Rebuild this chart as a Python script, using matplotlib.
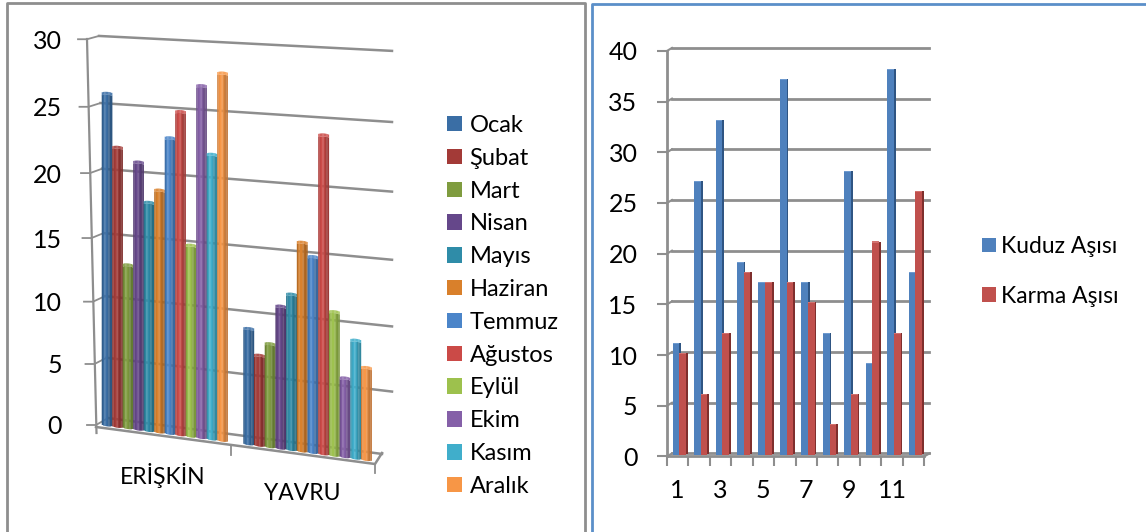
#!/usr/bin/env python3
import numpy as np
import matplotlib
matplotlib.use('Agg')
import matplotlib.pyplot as plt
from matplotlib import transforms as mtransforms
from matplotlib.colors import to_rgb
from matplotlib.patches import Patch

plt.rcParams['font.family'] = ['Lato', 'DejaVu Sans']

months = ['Ocak', 'Şubat', 'Mart', 'Nisan', 'Mayıs', 'Haziran', 'Temmuz', 'Ağustos', 'Eylül', 'Ekim', 'Kasım', 'Aralık']
month_colors = ['#3a6ea5', '#a33a37', '#7f9c3f', '#65478a', '#2f8ca8', '#d9802b',
	'#4b85c9', '#cb4a47', '#9dc14d', '#8560a8', '#40aecb', '#f79646']
eriskin = [26, 22, 13, 21, 18, 19, 23, 25, 15, 27, 22, 28]
yavru = [9, 7, 8, 11, 12, 16, 15, 24, 11, 6, 9, 7]
left_ticks = [0, 5, 10, 15, 20, 25, 30]

kuduz = [11, 27, 33, 19, 17, 37, 17, 12, 28, 9, 38, 18]
karma = [10, 6, 12, 18, 17, 17, 15, 3, 6, 21, 12, 26]
right_ticks = [0, 5, 10, 15, 20, 25, 30, 35, 40]

W, H = 1146, 532
GREY = '#8e8e8e'


class Tilted(mtransforms.Transform):
	# (pixel x, value) -> pixel position on a tilted plane of the left chart
	input_dims = 2
	output_dims = 2
	is_separable = False
	has_inverse = False

	def __init__(self, y0, slope, stretch=1.0):
		super().__init__()
		self.y0 = y0
		self.slope = slope
		self.stretch = stretch

	def transform_non_affine(self, xy):
		xy = np.asarray(xy, dtype=float)
		x, v = xy[:, 0], xy[:, 1]
		h = (11.86 * v + 0.028 * v * v) * (1 + 0.00021 * (x - 100)) * self.stretch
		return np.column_stack([x, self.y0 + self.slope * (x - 100) - h])


def shade(color, f):
	c = np.array(to_rgb(color))
	if f < 1:
		return tuple(c * f)
	return tuple(c + (1 - c) * (f - 1))


def draw_cylinders(ax, trans, left, step, values):
	for i, v in enumerate(values):
		n = 8
		w = step / n
		for j in range(n):
			t = (j + 0.5) / n
			dome = np.sqrt(1 - (2 * t - 1) ** 2)
			f = 0.78 + 0.24 * np.sin(np.pi * min(t * 1.35, 1))
			x = left + i * step + j * w
			ax.bar(x, v + 0.2 * dome, width=w * 1.15, bottom=-0.12 * dome, align='edge',
				color=shade(month_colors[i], f), lw=0, transform=trans, zorder=3 + i)
			ax.bar(x, 0.22, width=w * 1.15, bottom=v - 0.02 + 0.1 * dome, align='edge',
				color=shade(month_colors[i], 1.12), lw=0, transform=trans, zorder=3 + i)


fig = plt.figure(figsize=(W / 100, H / 100), dpi=100)

# left chart, axes in pixels of the figure
ax = fig.add_axes([0, 0, 1, 1])
ax.set_axis_off()

wall_tr = Tilted(417, 0.131)
wall = wall_tr + ax.transData
front = Tilted(424, 0.133, 1.004) + ax.transData

for v in left_ticks:
	ax.plot([99 + 9 * (1 - v / 30), 392 if v else 382], [v, v], color=GREY, lw=1.8, transform=wall, zorder=1)
	y = 425 - (12.07 * v + 0.0263 * v * v)
	xa = 87 + 9 * (1 - v / 30)
	xw = 99 + 9 * (1 - v / 30)
	yw = wall_tr.transform_non_affine(np.array([[xw, v]]))[0, 1]
	ax.plot([xa - 9, xa, xw], [y, y, yw], color=GREY, lw=1.3, zorder=1)
	ax.text(62, y + 2, str(v), ha='right', va='center', fontsize=18, color='black')
ax.plot([87, 96.5], [39, 433], color=GREY, lw=1.6, zorder=1)
ax.plot([96, 375, 382], [427, 464, 453], color=GREY, lw=1.8, zorder=2)
ax.plot([231, 231], [445, 455], color=GREY, lw=1.3, zorder=1)
ax.plot([375, 375], [464, 473], color=GREY, lw=1.3, zorder=1)

draw_cylinders(ax, front, 101.7, 10.5, eriskin)
draw_cylinders(ax, front, 243.3, 10.7, yavru)

ax.text(163, 475, 'ERİŞKİN', ha='center', va='center', fontsize=16.5, color='black')
ax.text(302, 494, 'YAVRU', ha='center', va='center', fontsize=16.5, color='black')

ax.plot([7, 7, 585, 585], [H, 3, 3, H], color=GREY, lw=2, zorder=0)
ax.plot([592, 592, W], [H, 4, 4], color='#5b8fc9', lw=2, zorder=0)

# short joins between the right chart's axis and its back wall
for v in right_ticks:
	y = 456.4 - v * (456.4 - 50.9) / 40
	ax.plot([667, 672], [y, y - 3], color=GREY, lw=1.5, zorder=1)

ax.set_xlim(0, W)
ax.set_ylim(H, 0)

handles = [Patch(facecolor=c, label=m) for c, m in zip(month_colors, months)]
leg = ax.legend(handles=handles, loc='upper left', bbox_to_anchor=(447 / W, 1 - 115 / H),
	frameon=False, fontsize=17, handlelength=0.635, handleheight=0.635, handletextpad=0.32,
	labelspacing=0.5, borderpad=0, borderaxespad=0)

# right chart
ax2 = fig.add_axes([666.7 / W, 1 - 456.4 / H, (924.3 - 666.7) / W, (456.4 - 50.9) / H])
ax2.patch.set_alpha(0)
ax2.set_xlim(0, 12)
ax2.set_ylim(0, 40)

back = mtransforms.offset_copy(ax2.transData, fig=fig, x=5, y=3, units='dots')
for v in right_ticks:
	ax2.plot([0, 12], [v, v], color=GREY, lw=2, transform=back, zorder=1, clip_on=False)

pos = np.arange(12) + 0.5
bw = 0.31
base = mtransforms.offset_copy(ax2.transData, fig=fig, x=1.8, y=1, units='dots')
side = mtransforms.offset_copy(ax2.transData, fig=fig, x=3.6, y=2, units='dots')
for vals, off, col, dark, light in [(kuduz, -bw, '#4f81bd', '#2f5583', '#6f9bd0'), (karma, 0, '#c0504d', '#7f2f2d', '#d2726f')]:
	ax2.bar(pos + off, vals, width=bw, align='edge', color=dark, lw=0, transform=side, zorder=3, clip_on=False)
	ax2.bar(pos + off, np.array(vals) + 0.1, width=bw, align='edge', color=light, lw=0, transform=base, zorder=3, clip_on=False)
	ax2.bar(pos + off, vals, width=bw, align='edge', color=col, lw=0, transform=base, zorder=4, clip_on=False)

for s in ['top', 'right']:
	ax2.spines[s].set_visible(False)
for s in ['left', 'bottom']:
	ax2.spines[s].set_color(GREY)
	ax2.spines[s].set_linewidth(2)
ax2.set_yticks(right_ticks)
ax2.set_xticks(np.arange(13))
ax2.set_xticklabels([])
ax2.set_xticks(pos[::2], [str(i) for i in range(1, 13, 2)], minor=True)
ax2.tick_params(axis='y', length=7, width=1.5, color=GREY, pad=14, labelsize=18)
ax2.tick_params(axis='x', which='major', length=7, width=1.5, color=GREY)
ax2.tick_params(axis='x', which='minor', length=0, pad=16, labelsize=18)
ax2.plot([12, 12.25], [0, 0.3], color=GREY, lw=1.5, clip_on=False, zorder=2)

leg2 = ax.legend(handles=[Patch(facecolor='#4f81bd', label='Kuduz Aşısı'), Patch(facecolor='#c0504d', label='Karma Aşısı')],
	loc='upper left', bbox_to_anchor=(982 / W, 1 - 236 / H), frameon=False, fontsize=16.5,
	handlelength=0.62, handleheight=0.62, handletextpad=0.2, labelspacing=1.25, borderpad=0, borderaxespad=0)
ax.add_artist(leg)

fig.savefig('out.png', dpi=100)
plt.close('all')
